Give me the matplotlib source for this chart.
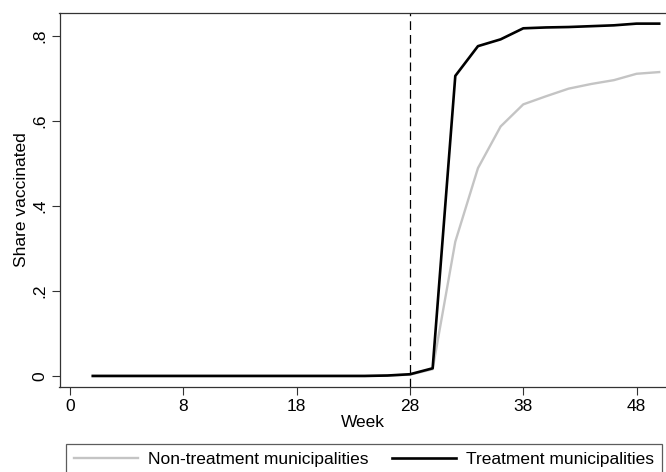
import matplotlib.pyplot as plt

plt.rcParams['font.family'] = ['Liberation Sans', 'DejaVu Sans']

# data (two-week steps)
weeks = [0, 2, 4, 6, 8, 10, 12, 14, 16, 18, 20, 22, 24, 26,
         28, 30, 32, 34, 36, 38, 40, 42, 44, 46, 48, 50]
non_treatment = [0.0, 0.0, 0.0, 0.0, 0.0, 0.0, 0.0, 0.0, 0.0, 0.0, 0.0, 0.0, 0.0, 0.001,
                 0.003, 0.016, 0.316, 0.489, 0.587, 0.639, 0.658, 0.676, 0.687, 0.696, 0.711, 0.715]
treatment = [0.0, 0.0, 0.0, 0.0, 0.0, 0.0, 0.0, 0.0, 0.0, 0.0, 0.0, 0.0, 0.0, 0.001,
             0.004, 0.018, 0.706, 0.776, 0.792, 0.818, 0.820, 0.821, 0.823, 0.825, 0.829, 0.829]
cutoff_week = 28

x_tick_pos = [-2, 8, 18, 28, 38, 48]
x_tick_labels = ["0", "8", "18", "28", "38", "48"]
y_ticks = [0, 0.2, 0.4, 0.6, 0.8]
y_tick_labels = ["0", ".2", ".4", ".6", ".8"]

fs = 12.5

fig = plt.figure(figsize=(6.66, 4.72), dpi=100)
ax = fig.add_axes([59.5 / 666, 1 - 387 / 472, 1 - 59.5 / 666, (387 - 13) / 472])

ax.plot(weeks, non_treatment, color='#c4c4c4', lw=1.7, label="Non-treatment municipalities")
ax.plot(weeks, treatment, color='black', lw=1.9, label="Treatment municipalities")
ax.axvline(cutoff_week, color='black', lw=0.9, ls=(0, (7, 4)))

ax.set_xlim(-2.94, 50.6)
ax.set_ylim(-0.026, 0.854)
ax.set_xticks(x_tick_pos, x_tick_labels)
ax.set_yticks(y_ticks, y_tick_labels)
for lab in ax.get_yticklabels():
    lab.set_rotation(90)
    lab.set_va('center')
ax.tick_params(labelsize=fs, length=5.5, width=0.8, color='#333333', pad=3)
ax.set_xlabel("Week", fontsize=fs, labelpad=1)
ax.set_ylabel("Share vaccinated", fontsize=fs, labelpad=3)
ax.spines['right'].set_visible(False)
for s in ['left', 'bottom', 'top']:
    ax.spines[s].set_linewidth(0.9)
    ax.spines[s].set_color('#333333')

leg = fig.legend(loc='upper left', bbox_to_anchor=(66 / 666, 1 - 444 / 472, (662 - 66) / 666, 0),
                 mode='expand', ncol=2, fontsize=fs, frameon=True, fancybox=False,
                 handlelength=3.7, handletextpad=0.57, borderaxespad=0, borderpad=0.45)
leg.get_frame().set_edgecolor('#333333')
leg.get_frame().set_linewidth(0.9)

fig.savefig("out.png", dpi=100)
